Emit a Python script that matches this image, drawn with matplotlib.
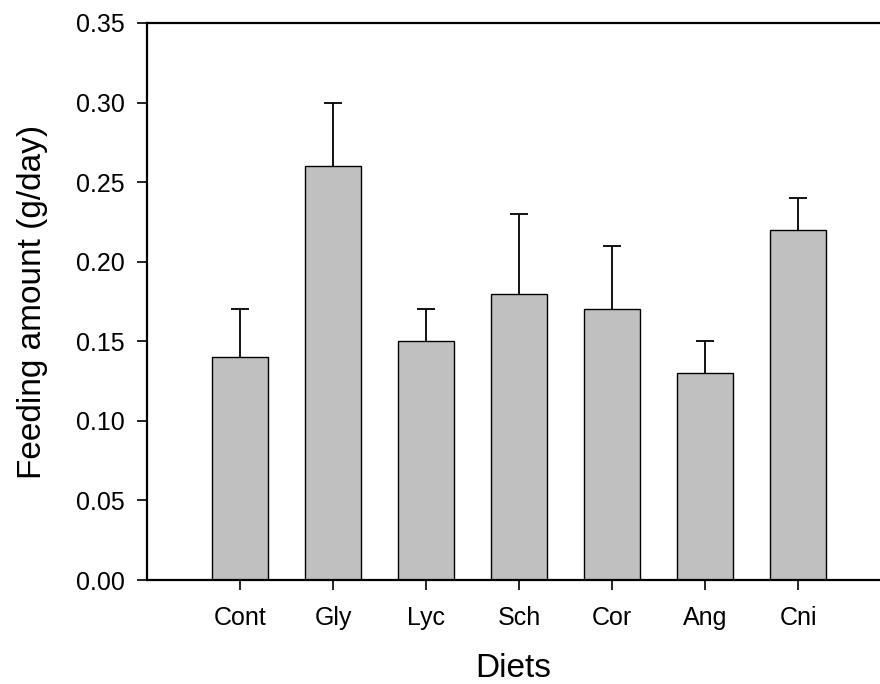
import matplotlib
matplotlib.use("Agg")
import matplotlib.pyplot as plt

categories = ["Cont", "Gly", "Lyc", "Sch", "Cor", "Ang", "Cni"]
means = [0.14, 0.26, 0.15, 0.18, 0.17, 0.13, 0.22]
errors = [0.03, 0.04, 0.02, 0.05, 0.04, 0.02, 0.02]
yticks = [0.00, 0.05, 0.10, 0.15, 0.20, 0.25, 0.30, 0.35]

plt.rcParams['font.family'] = ['Liberation Sans', 'DejaVu Sans']

fig = plt.figure(figsize=(8.8, 6.84), dpi=100)
ax = fig.add_axes([147/880, 104/684, 1 - 147/880, (580-23)/684])

x = list(range(1, len(categories) + 1))
ax.bar(x, means, width=0.6, color="#c0c0c0", edgecolor="black", linewidth=1.0, zorder=2)
ax.errorbar(x, means, yerr=[[0]*len(errors), errors], fmt="none", ecolor="black",
            elinewidth=1.3, capsize=0, zorder=3)
tops = [m + e for m, e in zip(means, errors)]
ax.plot(x, tops, linestyle="none", marker="_", markersize=13, markeredgewidth=1.3,
        color="black", zorder=3)

ax.set_xlim(0, 7.88)
ax.set_ylim(0, 0.35)
ax.set_xticks(x)
ax.set_xticklabels(categories)
ax.set_yticks(yticks)
ax.set_yticklabels([f"{v:.2f}" for v in yticks])

ax.spines['right'].set_visible(False)
for s in ['left', 'bottom', 'top']:
    ax.spines[s].set_linewidth(1.6)

ax.tick_params(axis='both', direction='out', length=7, width=1.2, labelsize=18)
ax.tick_params(axis='x', pad=12)
ax.tick_params(axis='y', pad=9)

ax.set_xlabel("Diets", fontsize=24, labelpad=16)
ax.set_ylabel("Feeding amount (g/day)", fontsize=24, labelpad=20)

fig.savefig("out.png", dpi=100)
